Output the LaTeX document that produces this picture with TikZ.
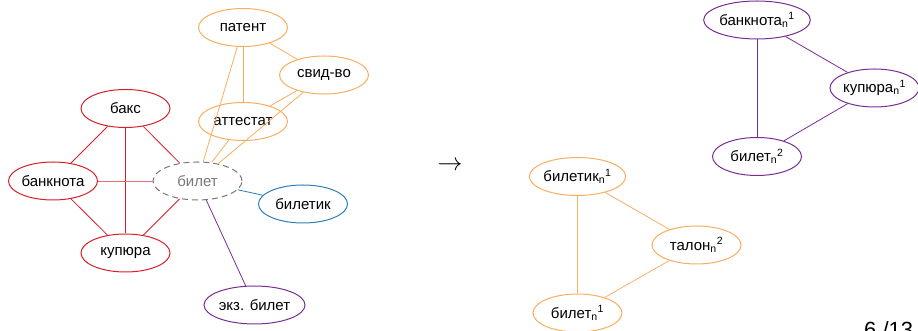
\documentclass[tikz,border=0pt]{standalone}
\usepackage{fontspec}
\setmainfont{Liberation Sans}
\usetikzlibrary{shapes.geometric}
\definecolor{sensered}{RGB}{215,30,40}
\definecolor{senseorange}{RGB}{250,172,95}
\definecolor{senseblue}{RGB}{45,125,190}
\definecolor{sensepurple}{RGB}{120,45,150}
\definecolor{sensegray}{RGB}{120,120,120}
\begin{document}
\begin{tikzpicture}[x=1pt,y=1pt,
  word/.style={ellipse,draw,line width=1pt,minimum width=89pt,minimum height=38pt,
    inner sep=0pt,font=\fontsize{15}{18}\selectfont},
  link/.style={line width=0.8pt}]
\useasboundingbox (0,0) rectangle (918,331);
% left: neighbours of the ambiguous word
\node[word,draw=sensegray,dashed,dash pattern=on 6pt off 4pt,text=sensegray] (bilet) at (197.5,150) {билет};
\node[word,draw=senseorange] (patent) at (243,303.5) {патент};
\node[word,draw=senseorange] (svid) at (324,256) {свид-во};
\node[word,draw=senseorange] (attestat) at (243,209.5) {аттестат};
\node[word,draw=sensered] (baks) at (125.5,222.5) {бакс};
\node[word,draw=sensered] (banknota) at (53,150) {банкнота};
\node[word,draw=sensered] (kupjura) at (125.5,78) {купюра};
\node[word,draw=senseblue] (biletik) at (303,127) {билетик};
\node[word,draw=sensepurple] (ekz) at (254.5,26) {экз. билет};
\draw[link,sensered] (baks) -- (banknota);
\draw[link,sensered] (baks) -- (kupjura);
\draw[link,sensered] (baks) -- (bilet);
\draw[link,sensered] (banknota) -- (kupjura);
\draw[link,sensered!65] (banknota) -- (bilet);
\draw[link,sensered] (kupjura) -- (bilet);
\draw[link,senseorange] (patent) -- (attestat);
\draw[link,senseorange] (patent) -- (svid);
\draw[link,senseorange] (patent) -- (bilet);
\draw[link,senseorange] (svid) -- (attestat);
\draw[link,senseorange] (svid) -- (bilet);
\draw[link,senseorange] (attestat) -- (bilet);
\draw[link,senseblue] (bilet) -- (biletik);
\draw[link,sensepurple] (bilet) -- (ekz);
\node (arrow) at (450,165) {\fontsize{25}{30}\selectfont$\rightarrow$};
% right: induced senses
\node[word,draw=sensepurple] (banknota1) at (757,311) {банкнота\textsubscript{n}\textsuperscript{1}};
\node[word,draw=sensepurple] (kupjura1) at (874.5,243) {купюра\textsubscript{n}\textsuperscript{1}};
\node[word,draw=sensepurple] (bilet2) at (757,174.5) {билет\textsubscript{n}\textsuperscript{2}};
\draw[link,sensepurple] (banknota1) -- (kupjura1);
\draw[link,sensepurple] (banknota1) -- (bilet2);
\draw[link,sensepurple] (kupjura1) -- (bilet2);
\node[word,draw=senseorange] (biletik1) at (577.5,154.5) {билетик\textsubscript{n}\textsuperscript{1}};
\node[word,draw=senseorange] (talon2) at (696.5,86) {талон\textsubscript{n}\textsuperscript{2}};
\node[word,draw=senseorange] (bilet1) at (577.5,18) {билет\textsubscript{n}\textsuperscript{1}};
\draw[link,senseorange] (biletik1) -- (talon2);
\draw[link,senseorange] (biletik1) -- (bilet1);
\draw[link,senseorange] (talon2) -- (bilet1);
\node[anchor=north west,inner sep=0pt,font=\fontsize{22}{26}\selectfont] (page) at (864,10) {6 /13};
\end{tikzpicture}
\end{document}
